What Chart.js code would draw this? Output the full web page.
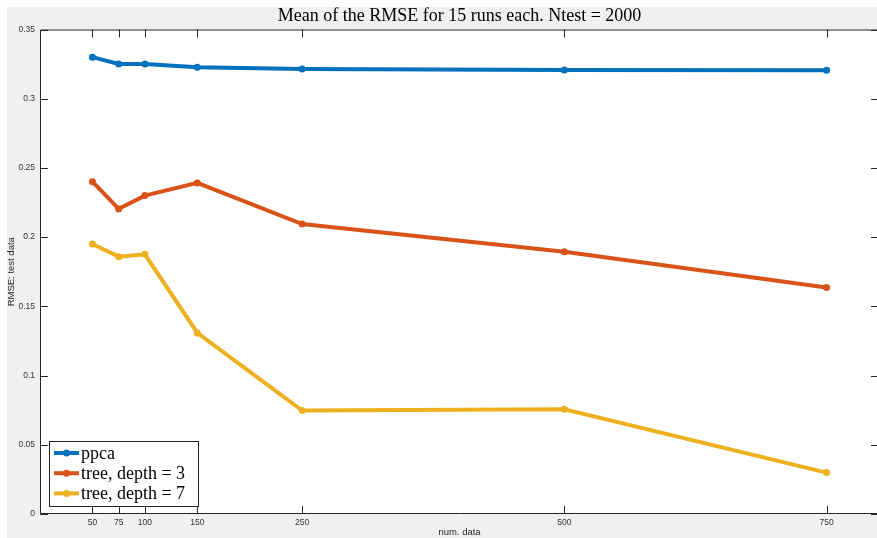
<!DOCTYPE html>
<html>
<head>
<meta charset="utf-8">
<script src="https://cdn.jsdelivr.net/npm/chart.js@4.4.1/dist/chart.umd.min.js"></script>
<style>
  html, body { margin: 0; padding: 0; background: #fff; overflow: hidden; }
  /* the axes run a couple of pixels past the right edge of the figure */
  #wrap { width: 877px; height: 538px; overflow: hidden; }
</style>
</head>
<body>
<div id="wrap"><canvas id="rmseChart" width="879" height="538"></canvas></div>
<script>
const numData = [50, 75, 100, 150, 250, 500, 750];
const ppca = [0.3300, 0.3251, 0.3251, 0.3227, 0.3215, 0.3207, 0.3206];
const treeDepth3 = [0.2401, 0.2204, 0.2300, 0.2392, 0.2095, 0.1895, 0.1636];
const treeDepth7 = [0.1951, 0.1859, 0.1876, 0.1308, 0.0747, 0.0756, 0.0299];
const yTicks = [0, 0.05, 0.1, 0.15, 0.2, 0.25, 0.3, 0.35];

const seriesNames = ['ppca', 'tree, depth = 3', 'tree, depth = 7'];
const seriesColors = ['#0072BD', '#D95319', '#EDB120'];

const axisColor = '#262626';
const tickFont = { family: 'Liberation Sans, Arial, sans-serif', size: 8.5 };
const labelFont = { family: 'Liberation Sans, Arial, sans-serif', size: 9.5 };
const serif = 'Liberation Serif, Times New Roman, serif';

const toPoints = ys => numData.map((x, i) => ({ x: x, y: ys[i] }));

// figure background, white axes and the MATLAB style box with inward ticks
const matlabBox = {
  id: 'matlabBox',
  beforeDraw(chart) {
    const { ctx, chartArea: a } = chart;
    ctx.save();
    ctx.fillStyle = '#f0f0f0';
    ctx.fillRect(7, 7, chart.width - 7, chart.height - 7);
    ctx.fillStyle = '#ffffff';
    ctx.fillRect(a.left, a.top, a.right - a.left, a.bottom - a.top);
    ctx.restore();
  },
  afterDatasetsDraw(chart) {
    const { ctx, chartArea: a, scales } = chart;
    const len = 8;
    ctx.save();
    ctx.strokeStyle = axisColor;
    ctx.lineWidth = 1;
    ctx.beginPath();
    ctx.rect(a.left + 0.5, a.top + 0.5, a.right - a.left - 1, a.bottom - a.top - 1);
    numData.forEach(v => {
      const px = Math.round(scales.x.getPixelForValue(v)) + 0.5;
      ctx.moveTo(px, a.bottom); ctx.lineTo(px, a.bottom - len);
      ctx.moveTo(px, a.top); ctx.lineTo(px, a.top + len);
    });
    yTicks.forEach(v => {
      const py = Math.round(scales.y.getPixelForValue(v)) + 0.5;
      ctx.moveTo(a.left, py); ctx.lineTo(a.left + len, py);
      ctx.moveTo(a.right, py); ctx.lineTo(a.right - len, py);
    });
    ctx.stroke();
    ctx.restore();
  },
  afterDraw(chart) {
    // legend box in the lower left corner of the axes
    const { ctx, chartArea: a } = chart;
    const x0 = a.left + 9, y0 = a.bottom - 73, w = 149, h = 65;
    ctx.save();
    ctx.fillStyle = '#ffffff';
    ctx.fillRect(x0, y0, w, h);
    ctx.strokeStyle = axisColor;
    ctx.lineWidth = 1;
    ctx.strokeRect(x0 + 0.5, y0 + 0.5, w, h);
    ctx.font = '18px ' + serif;
    ctx.textBaseline = 'middle';
    chart.data.datasets.forEach((ds, i) => {
      const cy = y0 + 12 + i * 20.2;
      ctx.strokeStyle = ds.borderColor;
      ctx.lineWidth = 4;
      ctx.beginPath();
      ctx.moveTo(x0 + 5, cy); ctx.lineTo(x0 + 30, cy);
      ctx.stroke();
      ctx.fillStyle = ds.borderColor;
      ctx.beginPath();
      ctx.arc(x0 + 17.5, cy, 3.5, 0, Math.PI * 2);
      ctx.fill();
      ctx.fillStyle = '#000000';
      ctx.fillText(ds.label, x0 + 32, cy + 1);
    });
    ctx.restore();
  }
};

new Chart(document.getElementById('rmseChart'), {
  type: 'line',
  data: {
    datasets: [ppca, treeDepth3, treeDepth7].map((ys, i) => ({
      label: seriesNames[i],
      data: toPoints(ys),
      borderColor: seriesColors[i],
      backgroundColor: seriesColors[i],
      borderWidth: 4,
      pointRadius: 3.5,
      pointBorderWidth: 0,
      tension: 0,
      fill: false
    }))
  },
  options: {
    responsive: false,
    devicePixelRatio: 1,
    animation: false,
    layout: { autoPadding: false, padding: 0 },
    plugins: {
      legend: { display: false },
      tooltip: { enabled: false },
      title: {
        display: true,
        fullSize: false,
        text: 'Mean of the RMSE for 15 runs each. Ntest = 2000',
        color: '#000000',
        font: { family: serif, size: 18, weight: 'normal', lineHeight: 1.2 },
        padding: { top: 5, bottom: 2.9 }
      }
    },
    scales: {
      x: {
        type: 'linear',
        min: 0,
        max: 800,
        afterBuildTicks: scale => { scale.ticks = numData.map(v => ({ value: v })); },
        afterFit: scale => { scale.height = 24; },
        grid: { display: false, drawTicks: false },
        border: { display: false },
        ticks: { color: '#333333', font: tickFont, padding: 4, maxRotation: 0, autoSkip: false,
                 callback: v => String(v) },
        title: { display: true, text: 'num. data', color: '#262626', font: labelFont,
                 padding: { top: 0, bottom: 0 } }
      },
      y: {
        min: 0,
        max: 0.35,
        afterBuildTicks: scale => { scale.ticks = yTicks.map(v => ({ value: v })); },
        afterFit: scale => { scale.width = 40; },
        grid: { display: false, drawTicks: false },
        border: { display: false },
        ticks: { color: '#333333', font: tickFont, padding: 5, autoSkip: false,
                 callback: v => String(Math.round(v * 100) / 100) },
        title: { display: true, text: 'RMSE: test data', color: '#262626', font: labelFont,
                 padding: { top: 6, bottom: 0 } }
      }
    }
  },
  plugins: [matlabBox]
});
</script>
</body>
</html>
